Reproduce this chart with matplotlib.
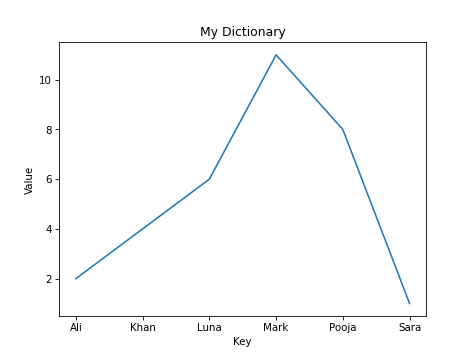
import matplotlib
matplotlib.use('Agg')
import matplotlib.pyplot as plt

keys = ['Ali', 'Khan', 'Luna', 'Mark', 'Pooja', 'Sara']
values = [2, 4, 6, 11, 8, 1]

fig = plt.figure(figsize=(6.4, 4.8), dpi=74)
plt.plot(keys, values)
plt.title('My Dictionary')
plt.xlabel('Key')
plt.ylabel('Value')

plt.savefig('out.png', dpi=74)
